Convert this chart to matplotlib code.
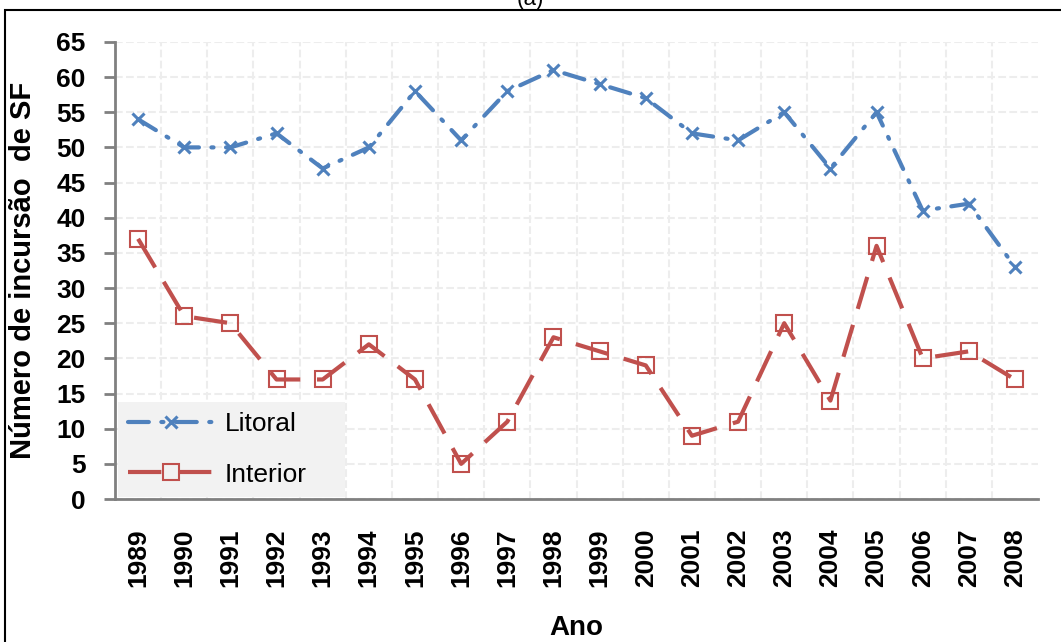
#! /usr/bin/env python3
# Numero de incursao de SF por ano: Litoral vs Interior

import numpy as np
import matplotlib.pyplot as plt
from matplotlib.patches import Rectangle

anos     = [1989, 1990, 1991, 1992, 1993, 1994, 1995, 1996, 1997, 1998,
            1999, 2000, 2001, 2002, 2003, 2004, 2005, 2006, 2007, 2008]
litoral  = [54, 50, 50, 52, 47, 50, 58, 51, 58, 61,
            59, 57, 52, 51, 55, 47, 55, 41, 42, 33]
interior = [37, 26, 25, 17, 17, 22, 17, 5, 11, 23,
            21, 19, 9, 11, 25, 14, 36, 20, 21, 17]
yticks   = list(range(0, 66, 5))

def main():
    plt.rcParams['font.family'] = ['Liberation Sans', 'DejaVu Sans']

    fig = plt.figure(figsize=(10.61, 6.42), dpi=100)
    ax = fig.add_axes([0.1084, 0.2227, 0.870, 0.712])

    x = np.arange(len(anos))
    azul = '#4F81BD'
    verm = '#C0504D'

    ax.plot(x, litoral, color=azul, lw=3, dashes=(5, 3, 0.5, 3),
            dash_capstyle='round', marker='x', ms=9, mew=2.2,
            label='Litoral')
    ax.plot(x, interior, color=verm, lw=3, dashes=(8, 4),
            marker='s', ms=12, mfc='none', mec=verm, mew=1.5,
            label='Interior')

    ax.set_xlim(-0.5, len(anos) - 0.5)
    ax.set_ylim(0, 65)
    ax.set_yticks(yticks)
    ax.set_xticks(x)
    ax.set_xticklabels([str(a) for a in anos], rotation=90,
                       fontsize=19, fontweight='bold')
    ax.set_xticks(x[:-1] + 0.5, minor=True)
    for lab in ax.get_yticklabels():
        lab.set_fontsize(19)
        lab.set_fontweight('bold')

    ax.grid(True, axis='y', which='major', color='#EDEDED', ls='--', lw=1.5)
    ax.grid(True, axis='x', which='minor', color='#EDEDED', ls='--', lw=1.5)
    ax.set_axisbelow(True)

    for s in ['top', 'right']:
        ax.spines[s].set_visible(False)
    for s in ['left', 'bottom']:
        ax.spines[s].set_color('#808080')
        ax.spines[s].set_linewidth(2)
    ax.tick_params(axis='y', which='major', length=8, width=2,
                   color='#808080', pad=13)
    ax.tick_params(axis='x', which='both', length=0, pad=21)

    ax.set_xlabel('Ano', fontsize=20, fontweight='bold', labelpad=20)
    ax.set_ylabel('Número de incursão  de SF', fontsize=21,
                  fontweight='bold', labelpad=14)

    leg = ax.legend(loc='lower left', bbox_to_anchor=(0.003, 0.004, 0.246, 0.224),
                    mode='expand', fontsize=19, frameon=True, fancybox=False,
                    handlelength=3.2, handletextpad=0.45, borderpad=0.4,
                    labelspacing=1.0, borderaxespad=0)
    leg.get_frame().set_facecolor('#F2F2F2')
    leg.get_frame().set_edgecolor('none')
    leg.get_frame().set_alpha(1)

    fig.patches.append(Rectangle((5/1061, -0.1), 1.1, 1.1 - 10/642,
                                 transform=fig.transFigure, fill=False,
                                 ec='black', lw=1.5))
    fig.text(0.5, 1.0, '(a)', ha='center', va='center', fontsize=16)

    fig.savefig('out.png', dpi=100)

if __name__ == "__main__":
    main()
